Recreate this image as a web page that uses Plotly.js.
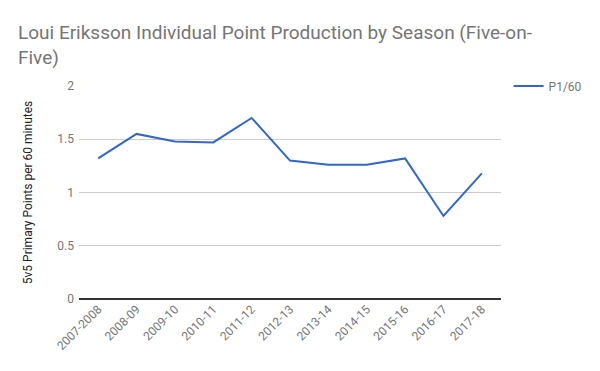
<!DOCTYPE html>
<html><head><meta charset="utf-8">
<script src="https://cdn.plot.ly/plotly-3.0.1.min.js"></script>
<style>html,body{margin:0;padding:0;background:#fff}#chart{width:600px;height:371px}</style>
</head><body><div id="chart"></div>
<script>
const seasons = ["2007-2008","2008-09","2009-10","2010-11","2011-12","2012-13","2013-14","2014-15","2015-16","2016-17","2017-18"];
const p160 = [1.32,1.55,1.48,1.47,1.70,1.30,1.26,1.26,1.32,0.78,1.18];
const seriesName = "P1/60";
const yTicks = [0,0.5,1,1.5,2];
const yTickText = ["0","0.5","1","1.5","2"];

Plotly.newPlot("chart",[{
  x: seasons, y: p160, type:"scatter", mode:"lines", name: seriesName,
  line:{color:"#3366cc", width:2}
}],{
  width:600, height:371,
  margin:{l:79, r:91, t:86, b:72},
  paper_bgcolor:"#fff", plot_bgcolor:"#fff",
  font:{family:"Roboto, Arial, sans-serif", size:12, color:"#757575"},
  title:{text:"Loui Eriksson Individual Point Production by Season (Five-on-<br>Five)",
    font:{family:"Roboto, Arial, sans-serif", size:19, color:"#757575"},
    x:18/600, xanchor:"left", xref:"container", y:1-39/371, yanchor:"top", yref:"container"},
  xaxis:{type:"category", range:[-0.5, seasons.length-0.5], tickangle:-45, showgrid:false, zeroline:false, showline:false,
    ticks:"", tickfont:{size:12, color:"#757575"}},
  yaxis:{range:[0,2], tickvals:yTicks, ticktext:yTickText, showgrid:true, gridcolor:"#cccccc",
    zeroline:true, zerolinecolor:"#333333", zerolinewidth:1.5, ticks:"", ticklen:0,
    ticklabelstandoff:4,
    tickfont:{size:12, color:"#757575"},
    title:{text:"5v5 Primary Points per 60 minutes", font:{size:12, color:"#222222"}, standoff:22}},
  showlegend:true,
  legend:{x:1.018, xanchor:"left", y:1.0, yanchor:"middle", font:{size:12, color:"#757575"}, bgcolor:"rgba(0,0,0,0)"}
},{displayModeBar:false, staticPlot:true});
</script></body></html>
